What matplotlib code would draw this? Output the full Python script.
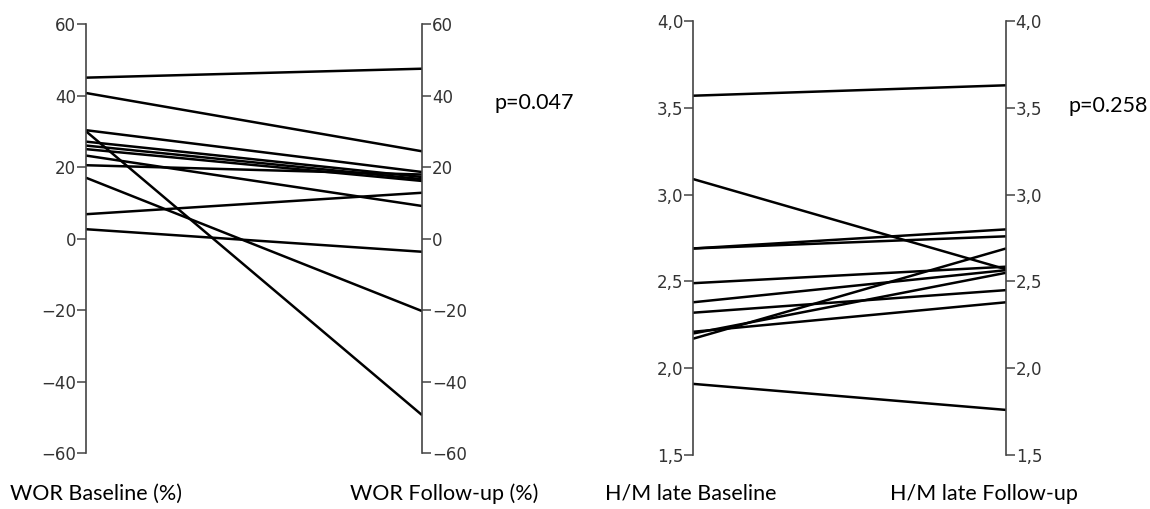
import numpy as np
import matplotlib.pyplot as plt

# Dados - WOR (%)
wor_baseline = [45.0, 40.7, 30.3, 30.0, 27.1, 26.0, 25.0, 23.2, 20.5, 17.0, 6.8, 2.6]
wor_followup = [47.5, 24.4, 18.6, -49.4, 17.2, 16.6, 16.1, 9.1, 17.9, -20.3, 12.8, -3.7]
wor_ticks = [-60, -40, -20, 0, 20, 40, 60]
wor_ticklabels = ['\u221260', '\u221240', '\u221220', '0', '20', '40', '60']

# Dados - H/M late
hm_baseline = [3.57, 3.09, 2.69, 2.69, 2.49, 2.38, 2.32, 2.21, 2.20, 2.17, 1.91]
hm_followup = [3.63, 2.57, 2.80, 2.76, 2.585, 2.565, 2.45, 2.38, 2.55, 2.69, 1.76]
hm_ticks = [1.5, 2.0, 2.5, 3.0, 3.5, 4.0]
hm_ticklabels = ['1,5', '2,0', '2,5', '3,0', '3,5', '4,0']

labels = ['WOR Baseline (%)', 'WOR Follow-up (%)', 'H/M late Baseline', 'H/M late Follow-up']
pvalues = ['p=0.047', 'p=0.258']

fig = plt.figure(figsize=(11.5, 5.09), dpi=100)
ax1 = fig.add_axes([0.0748, 0.110, 0.2922, 0.8428])
ax2 = fig.add_axes([0.6026, 0.106, 0.2722, 0.8526])


def painel(ax, base, follow, ticks, ticklabels):
    for b, f in zip(base, follow):
        ax.plot([0, 1], [b, f], color='black', lw=1.8, solid_capstyle='butt')
    ax.set_xlim(0, 1)
    ax.set_ylim(ticks[0], ticks[-1])
    ax.set_xticks([])
    ax.set_yticks(ticks)
    ax.set_yticklabels(ticklabels)
    for s in ['top', 'bottom']:
        ax.spines[s].set_visible(False)
    for s in ['left', 'right']:
        ax.spines[s].set_color('#444444')
        ax.spines[s].set_linewidth(1.2)
    ax.tick_params(axis='y', left=True, right=True, labelleft=True, labelright=True,
                   length=6.5, width=1.1, color='#444444', labelcolor='#333333',
                   labelsize=12, pad=0.5)


painel(ax1, wor_baseline, wor_followup, wor_ticks, wor_ticklabels)
painel(ax2, hm_baseline, hm_followup, hm_ticks, hm_ticklabels)

# Textos
fonte = 'Lato'
yl = 1 - 494 / 509
fig.text(10 / 1150, yl, labels[0], fontsize=15.5, family=fonte, va='center', ha='left')
fig.text(350 / 1150, yl, labels[1], fontsize=15.5, family=fonte, va='center', ha='left')
fig.text(605 / 1150, yl, labels[2], fontsize=15.5, family=fonte, va='center', ha='left')
fig.text(890 / 1150, yl, labels[3], fontsize=15.5, family=fonte, va='center', ha='left')
fig.text(495 / 1150, 1 - 103 / 509, pvalues[0], fontsize=15.5, family=fonte, va='center', ha='left')
fig.text(1068 / 1150, 1 - 106 / 509, pvalues[1], fontsize=15.5, family=fonte, va='center', ha='left')

plt.savefig('out.png', dpi=100)
